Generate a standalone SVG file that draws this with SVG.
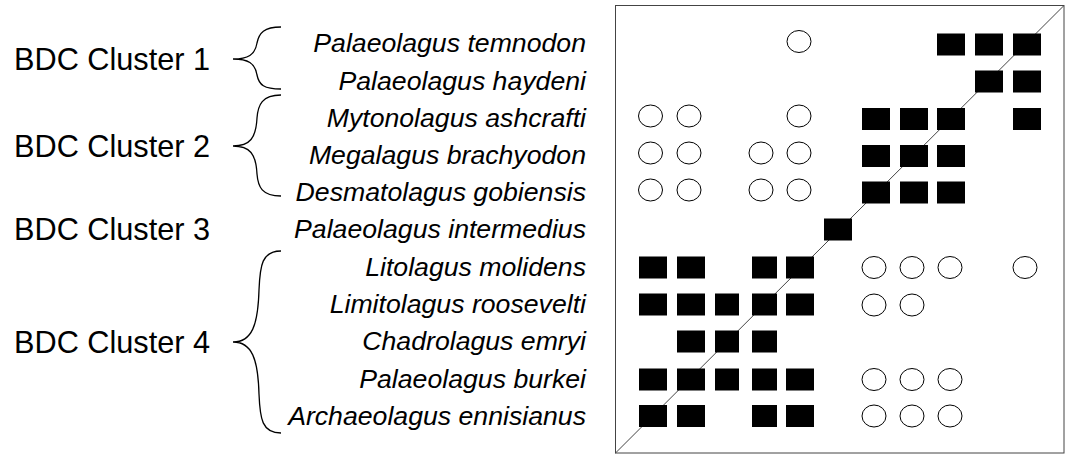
<svg xmlns="http://www.w3.org/2000/svg" width="1066" height="455" viewBox="0 0 1066 455">
<style>
.cl{font-family:"Liberation Sans",Arial,sans-serif;font-size:30.7px;fill:#000}
.sp{font-family:"Liberation Sans",Arial,sans-serif;font-size:26.67px;font-style:italic;fill:#000;text-anchor:end}
.br{fill:none;stroke:#000;stroke-width:1.3}
.sq{fill:#000}
.ci{fill:#fff;stroke:#000;stroke-width:1}
</style>
<rect width="1066" height="455" fill="#fff"/>
<g id="clusters">
<g id="cluster1"><text class="cl" x="14" y="70">BDC Cluster 1</text></g>
<g id="cluster2"><text class="cl" x="14" y="157">BDC Cluster 2</text></g>
<g id="cluster3"><text class="cl" x="14" y="240">BDC Cluster 3</text></g>
<g id="cluster4"><text class="cl" x="14" y="353">BDC Cluster 4</text></g>
</g>
<g id="connectors">
<path class="br" d="M281,27 C264,27 259,33 257,43 C255,55 248,59 233,59 C248,59 255,63 257,75 C259,85 264,89 281,89"/>
<path class="br" d="M281,95 C262,95 258,105 257,118 C256,138 250,146 233,146 C250,146 256,154 257,174 C258,187 262,196 281,196"/>
<path class="br" d="M281,251 C262,251 260,265 259,290 C258,325 252,342 233,342 C252,342 258,359 259,394 C260,419 262,433 281,433"/>
</g>
<g id="species">
<text class="sp" x="586" y="52">Palaeolagus temnodon</text>
<text class="sp" x="586" y="90">Palaeolagus haydeni</text>
<text class="sp" x="586" y="127">Mytonolagus ashcrafti</text>
<text class="sp" x="586" y="164">Megalagus brachyodon</text>
<text class="sp" x="586" y="201">Desmatolagus gobiensis</text>
<text class="sp" x="586" y="238">Palaeolagus intermedius</text>
<text class="sp" x="586" y="276">Litolagus molidens</text>
<text class="sp" x="586" y="313">Limitolagus roosevelti</text>
<text class="sp" x="586" y="350">Chadrolagus emryi</text>
<text class="sp" x="586" y="388">Palaeolagus burkei</text>
<text class="sp" x="586" y="425">Archaeolagus ennisianus</text>
</g>
<g id="matrix">
<rect x="615.5" y="5.5" width="448.5" height="447.5" fill="#fff" stroke="#444" stroke-width="1"/>
<line x1="615.5" y1="453" x2="1064" y2="5.5" stroke="#444" stroke-width="1"/>
<!-- row 1 -->
<ellipse class="ci" cx="799" cy="41.5" rx="12" ry="11"/>
<rect class="sq" x="937" y="33.5" width="28" height="22"/>
<rect class="sq" x="975" y="33.5" width="28" height="22"/>
<rect class="sq" x="1013" y="33.5" width="28" height="22"/>
<!-- row 2 -->
<rect class="sq" x="975" y="70.5" width="28" height="22"/>
<rect class="sq" x="1013" y="70.5" width="28" height="22"/>
<!-- row 3 -->
<ellipse class="ci" cx="650.5" cy="116" rx="12" ry="11"/>
<ellipse class="ci" cx="689" cy="116" rx="12" ry="11"/>
<ellipse class="ci" cx="799" cy="116" rx="12" ry="11"/>
<rect class="sq" x="862" y="108" width="28" height="22"/>
<rect class="sq" x="900" y="108" width="28" height="22"/>
<rect class="sq" x="937" y="108" width="28" height="22"/>
<rect class="sq" x="1013" y="108" width="28" height="22"/>
<!-- row 4 -->
<ellipse class="ci" cx="650.5" cy="153" rx="12" ry="11"/>
<ellipse class="ci" cx="689" cy="153" rx="12" ry="11"/>
<ellipse class="ci" cx="761" cy="153" rx="12" ry="11"/>
<ellipse class="ci" cx="799" cy="153" rx="12" ry="11"/>
<rect class="sq" x="862" y="145" width="28" height="22"/>
<rect class="sq" x="900" y="145" width="28" height="22"/>
<rect class="sq" x="937" y="145" width="28" height="22"/>
<!-- row 5 -->
<ellipse class="ci" cx="650.5" cy="190" rx="12" ry="11"/>
<ellipse class="ci" cx="689" cy="190" rx="12" ry="11"/>
<ellipse class="ci" cx="761" cy="190" rx="12" ry="11"/>
<ellipse class="ci" cx="799" cy="190" rx="12" ry="11"/>
<rect class="sq" x="862" y="181.5" width="28" height="22"/>
<rect class="sq" x="900" y="181.5" width="28" height="22"/>
<rect class="sq" x="937" y="181.5" width="28" height="22"/>
<!-- row 6 -->
<rect class="sq" x="824" y="218.5" width="28" height="22"/>
<!-- row 7 -->
<rect class="sq" x="639" y="256.5" width="28" height="22"/>
<rect class="sq" x="677" y="256.5" width="28" height="22"/>
<rect class="sq" x="752" y="256.5" width="25" height="22"/>
<rect class="sq" x="786" y="256.5" width="28" height="22"/>
<ellipse class="ci" cx="874" cy="267.5" rx="12" ry="11"/>
<ellipse class="ci" cx="912" cy="267.5" rx="12" ry="11"/>
<ellipse class="ci" cx="950" cy="267.5" rx="12" ry="11"/>
<ellipse class="ci" cx="1025" cy="267.5" rx="12" ry="11"/>
<!-- row 8 -->
<rect class="sq" x="639" y="293.5" width="28" height="22"/>
<rect class="sq" x="677" y="293.5" width="28" height="22"/>
<rect class="sq" x="715" y="293.5" width="24" height="22"/>
<rect class="sq" x="752" y="293.5" width="25" height="22"/>
<rect class="sq" x="786" y="293.5" width="28" height="22"/>
<ellipse class="ci" cx="874" cy="305" rx="12" ry="11"/>
<ellipse class="ci" cx="912" cy="305" rx="12" ry="11"/>
<!-- row 9 -->
<rect class="sq" x="677" y="330.5" width="28" height="22"/>
<rect class="sq" x="715" y="330.5" width="24" height="22"/>
<rect class="sq" x="752" y="330.5" width="25" height="22"/>
<!-- row 10 -->
<rect class="sq" x="639" y="368.5" width="28" height="22"/>
<rect class="sq" x="677" y="368.5" width="28" height="22"/>
<rect class="sq" x="715" y="368.5" width="24" height="22"/>
<rect class="sq" x="752" y="368.5" width="25" height="22"/>
<rect class="sq" x="786" y="368.5" width="28" height="22"/>
<ellipse class="ci" cx="874" cy="379.5" rx="12" ry="11"/>
<ellipse class="ci" cx="912" cy="379.5" rx="12" ry="11"/>
<ellipse class="ci" cx="950" cy="379.5" rx="12" ry="11"/>
<!-- row 11 -->
<rect class="sq" x="639" y="405" width="28" height="22"/>
<rect class="sq" x="677" y="405" width="28" height="22"/>
<rect class="sq" x="752" y="405" width="25" height="22"/>
<rect class="sq" x="786" y="405" width="28" height="22"/>
<ellipse class="ci" cx="874" cy="416" rx="12" ry="11"/>
<ellipse class="ci" cx="912" cy="416" rx="12" ry="11"/>
<ellipse class="ci" cx="950" cy="416" rx="12" ry="11"/>
</g>
</svg>
